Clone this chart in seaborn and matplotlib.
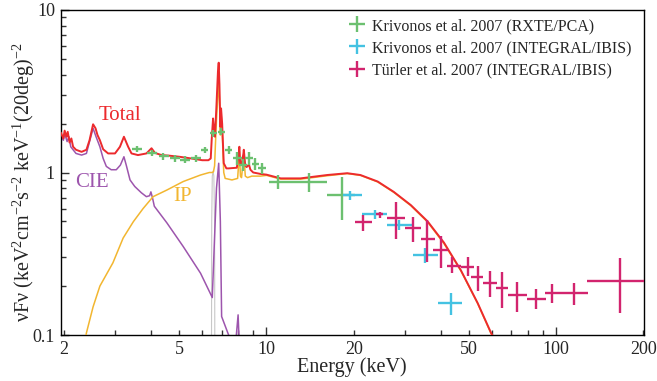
import numpy as np
import pandas as pd
import matplotlib
matplotlib.use('Agg')
import matplotlib.pyplot as plt
import seaborn as sns
from matplotlib.ticker import FixedLocator, FixedFormatter, NullFormatter

# ---------------- data ----------------
# Model: Total
total_E = [1.95, 1.99, 2.01, 2.04, 2.06, 2.09, 2.12, 2.15, 2.20, 2.30, 2.39, 2.45, 2.52,
           2.57, 2.61, 2.66, 2.73, 2.84, 3.00, 3.12, 3.22, 3.33, 3.42, 3.60, 3.85, 4.01,
           4.12, 4.34, 4.60, 5.00, 5.50, 6.00, 6.30, 6.42, 6.47, 6.54, 6.58, 6.64, 6.72,
           6.80, 6.84, 6.88, 6.93, 6.97, 7.03, 7.12, 7.27, 7.40, 7.90, 8.02, 8.06, 8.12,
           8.20, 8.32, 8.35, 8.45, 8.54, 8.70, 8.80, 9.00, 9.53,
           10.0, 11.2, 13.1, 16.2, 19.0, 21.1, 24.2, 27.5, 31.5, 36.0, 41.0, 46.9, 53.6,
           59.6, 62.0]
total_v = [1.76, 1.62, 1.81, 1.66, 1.78, 1.53, 1.62, 1.44, 1.38, 1.34, 1.38, 1.58, 1.98,
           1.87, 1.70, 1.58, 1.39, 1.31, 1.31, 1.44, 1.66, 1.44, 1.31, 1.28, 1.31, 1.41,
           1.32, 1.28, 1.27, 1.25, 1.22, 1.19, 1.19, 1.22, 1.60, 2.15, 1.90, 1.66, 2.60,
           4.20, 4.74, 3.50, 1.91, 2.48, 2.00, 1.14, 1.06, 1.06, 1.07, 1.30, 1.44, 1.11,
           1.12, 1.30, 1.38, 1.10, 1.08, 1.12, 1.04, 1.00, 0.98,
           0.97, 0.92, 0.92, 0.965, 0.99, 0.965, 0.88, 0.76, 0.63, 0.50, 0.37, 0.25, 0.157,
           0.103, 0.09]

# Model: CIE
cie_E = [1.95, 1.99, 2.01, 2.05, 2.08, 2.11, 2.15, 2.20, 2.30, 2.39, 2.45, 2.52, 2.58,
         2.66, 2.73, 2.80, 2.91, 3.03, 3.13, 3.22, 3.28, 3.38, 3.51, 3.70, 3.85, 3.95,
         3.99, 4.04, 4.10, 4.53, 5.16, 5.92, 6.50, 6.60, 6.72, 6.84, 6.93, 7.00, 7.40,
         7.60, 7.85, 7.98, 8.05, 8.30]
cie_v = [1.70, 1.58, 1.74, 1.55, 1.66, 1.44, 1.38, 1.31, 1.28, 1.31, 1.55, 1.87, 1.66,
         1.44, 1.22, 1.09, 1.04, 1.04, 1.11, 1.25, 1.11, 0.90, 0.82, 0.75, 0.71, 0.72,
         0.76, 0.70, 0.62, 0.49, 0.35, 0.24, 0.17, 0.35, 0.80, 1.14, 0.50, 0.13, 0.10,
         0.09, 0.095, 0.133, 0.09, 0.07]

# Model: IP
ip_E = [2.30, 2.39, 2.52, 2.66, 2.95, 3.20, 3.47, 3.75, 4.06, 4.53, 5.16, 5.92, 6.35,
        6.50, 6.56, 6.62, 6.66, 6.72, 6.80, 6.84, 6.88, 6.93, 6.97, 7.03, 7.12, 7.20,
        7.60, 7.95, 8.02, 8.06, 8.13, 8.20, 8.30, 8.35, 8.45, 8.60, 8.90, 9.53,
        10.0, 11.2, 13.1, 16.2, 19.0, 21.1, 24.2, 27.5, 31.5, 36.0, 41.0, 46.9, 53.6,
        59.6, 62.0]
ip_v = [0.07, 0.103, 0.149, 0.20, 0.278, 0.395, 0.498, 0.60, 0.71, 0.78, 0.88, 0.965, 1.00,
        1.00, 1.01, 1.10, 1.45, 2.10, 3.10, 3.65, 2.80, 1.70, 2.30, 1.80, 1.00, 0.92,
        0.90, 0.92, 1.15, 1.35, 0.95, 0.93, 1.15, 1.30, 0.95, 0.93, 0.95, 0.95,
        0.96, 0.91, 0.91, 0.955, 0.985, 0.96, 0.875, 0.755, 0.625, 0.495, 0.365, 0.248, 0.156,
        0.102, 0.09]

# Model: fluorescence line (grey)
line_E = [6.40, 6.46, 6.47, 6.50, 6.54, 6.58, 6.62, 6.63, 6.68]
line_v = [0.05, 0.10, 0.50, 0.95, 1.02, 0.95, 0.50, 0.10, 0.05]

# Krivonos et al. 2007 (RXTE/PCA)
pca_E   = [3.57, 4.02, 4.41, 4.84, 5.24, 5.72, 6.12, 6.56, 6.98, 7.40, 7.92, 8.30, 8.68, 9.16, 9.66, 11.0, 14.0, 18.2]
pca_Elo = [3.43, 3.86, 4.24, 4.65, 5.04, 5.50, 5.95, 6.38, 6.78, 7.20, 7.65, 8.05, 8.40, 8.90, 9.35, 10.2, 11.9, 16.2]
pca_Ehi = [3.72, 4.18, 4.59, 5.04, 5.45, 5.95, 6.30, 6.74, 7.18, 7.60, 8.20, 8.55, 8.95, 9.45, 10.0, 11.9, 16.2, 20.2]
pca_v   = [1.39, 1.32, 1.26, 1.22, 1.20, 1.22, 1.375, 1.74, 1.78, 1.375, 1.22, 1.11, 1.22, 1.13, 1.06, 0.878, 0.878, 0.727]
pca_vlo = [1.33, 1.26, 1.20, 1.16, 1.14, 1.16, 1.31, 1.66, 1.69, 1.30, 1.12, 1.02, 1.12, 1.04, 0.98, 0.79, 0.76, 0.51]
pca_vhi = [1.46, 1.38, 1.32, 1.28, 1.26, 1.28, 1.44, 1.83, 1.87, 1.45, 1.33, 1.21, 1.33, 1.23, 1.15, 0.965, 0.99, 0.94]

# Krivonos et al. 2007 (INTEGRAL/IBIS)
kibis_E   = [19.4, 23.6, 28.7, 35.2, 43.2]
kibis_Elo = [18.3, 21.3, 26.0, 32.0, 39.1]
kibis_Ehi = [21.4, 26.1, 31.9, 39.1, 47.4]
kibis_v   = [0.727, 0.553, 0.475, 0.311, 0.157]
kibis_vlo = [0.68, 0.515, 0.443, 0.276, 0.133]
kibis_vhi = [0.77, 0.588, 0.51, 0.342, 0.181]

# Türler et al. 2007 (INTEGRAL/IBIS)
tibis_E   = [21.6, 24.6, 27.9, 32.0, 35.9, 40.0, 43.8, 49.5, 53.8, 59.0, 64.8, 73.4, 85.3, 96.8, 114.9, 166.0]
tibis_Elo = [20.2, 23.9, 26.0, 30.0, 34.1, 37.6, 41.9, 46.9, 51.0, 56.1, 62.0, 68.4, 79.1, 91.5, 102.6, 128.0]
tibis_Ehi = [23.2, 25.3, 30.0, 34.2, 38.1, 42.2, 46.9, 52.1, 56.1, 62.4, 68.2, 79.4, 92.1, 102.6, 128.8, 206.0]
tibis_v   = [0.498, 0.553, 0.522, 0.453, 0.39, 0.334, 0.266, 0.263, 0.228, 0.21, 0.196, 0.176, 0.167, 0.182, 0.182, 0.216]
tibis_vlo = [0.438, 0.522, 0.39, 0.375, 0.283, 0.257, 0.242, 0.231, 0.187, 0.171, 0.146, 0.139, 0.144, 0.157, 0.153, 0.137]
tibis_vhi = [0.548, 0.574, 0.661, 0.530, 0.51, 0.407, 0.303, 0.30, 0.266, 0.249, 0.243, 0.213, 0.191, 0.205, 0.21, 0.296]

legend_labels = ['Krivonos et al. 2007 (RXTE/PCA)',
                 'Krivonos et al. 2007 (INTEGRAL/IBIS)',
                 'Türler et al. 2007 (INTEGRAL/IBIS)']
x_major = [10, 100]
x_minor = [2, 3, 4, 5, 6, 7, 8, 9, 20, 30, 40, 50, 60, 70, 80, 90, 200]
x_minor_labels = ['2', '', '', '5', '', '', '', '', '20', '', '', '50', '', '', '', '', '200']
y_major = [0.1, 1, 10]
y_major_labels = ['0.1', '1', '10']

# ---------------- style ----------------
sns.set_theme(style='white')
plt.rcParams['font.family'] = ['Liberation Serif', 'DejaVu Serif']
plt.rcParams['mathtext.fontset'] = 'custom'
plt.rcParams['mathtext.rm'] = 'Liberation Serif'
plt.rcParams['mathtext.it'] = 'Liberation Serif:italic'

C_TOT = '#ec2a2d'
C_CIE = '#9d55ad'
C_IP = '#f2b630'
C_LINE = '#c8c8c8'
C_PCA = '#6cc070'
C_KIB = '#44c2e2'
C_TIB = '#d2246e'

W, H = 657, 381
fig = plt.figure(figsize=(W / 100, H / 100), dpi=100)
ax = fig.add_axes([60.5 / W, 1 - 335 / H, (644 - 60.5) / W, (335 - 10) / H])
ax.set_xscale('log')
ax.set_yscale('log')

sns.lineplot(x=line_E, y=line_v, ax=ax, color=C_LINE, lw=0.8, sort=False, estimator=None, zorder=1)
sns.lineplot(x=cie_E, y=cie_v, ax=ax, color=C_CIE, lw=1.1, sort=False, estimator=None, zorder=2)
sns.lineplot(x=ip_E, y=ip_v, ax=ax, color=C_IP, lw=1.1, sort=False, estimator=None, zorder=3)
sns.lineplot(x=total_E, y=total_v, ax=ax, color=C_TOT, lw=1.4, sort=False, estimator=None, zorder=4)

handles = []
for E, Elo, Ehi, v, vlo, vhi, col in [
        (pca_E, pca_Elo, pca_Ehi, pca_v, pca_vlo, pca_vhi, C_PCA),
        (kibis_E, kibis_Elo, kibis_Ehi, kibis_v, kibis_vlo, kibis_vhi, C_KIB),
        (tibis_E, tibis_Elo, tibis_Ehi, tibis_v, tibis_vlo, tibis_vhi, C_TIB)]:
    E = np.array(E); v = np.array(v)
    xerr = [E - np.array(Elo), np.array(Ehi) - E]
    yerr = [v - np.array(vlo), np.array(vhi) - v]
    h = ax.errorbar(E, v, xerr=xerr, yerr=yerr, fmt='none', ecolor=col,
                    elinewidth=1.7, capsize=0, zorder=5)
    handles.append(h)

ax.set_xlim(1.945, 201)
ax.set_ylim(0.1, 10)

ax.text(3.13, 2.23, 'Total', color=C_TOT, fontsize=15, ha='center', va='center')
ax.text(2.50, 0.874, 'CIE', color=C_CIE, fontsize=15, ha='center', va='center')
ax.text(5.12, 0.707, 'IP', color=C_IP, fontsize=15, ha='center', va='center')

leg = ax.legend(handles, legend_labels, loc='upper right', frameon=False, fontsize=11.5,
                handlelength=0.9, handletextpad=0.5, labelspacing=0.38,
                borderaxespad=0.0, bbox_to_anchor=(0.99, 0.995))

ax.xaxis.set_major_locator(FixedLocator(x_major))
ax.xaxis.set_major_formatter(FixedFormatter([str(t) for t in x_major]))
ax.xaxis.set_minor_locator(FixedLocator(x_minor))
ax.xaxis.set_minor_formatter(FixedFormatter(x_minor_labels))
ax.yaxis.set_major_locator(FixedLocator(y_major))
ax.yaxis.set_major_formatter(FixedFormatter(y_major_labels))
ax.yaxis.set_minor_locator(FixedLocator([0.2, 0.3, 0.4, 0.5, 0.6, 0.7, 0.8, 0.9,
                                         2, 3, 4, 5, 6, 7, 8, 9]))
ax.yaxis.set_minor_formatter(NullFormatter())

ax.tick_params(which='both', direction='in', bottom=True, left=True, top=False, right=False,
               labelsize=13, color='#333333', width=1.0, pad=4)
ax.tick_params(which='major', length=6)
ax.tick_params(which='minor', length=3.5)
for s in ax.spines.values():
    s.set_color('black')
    s.set_linewidth(1.0)

ax.set_xlabel('Energy (keV)', fontsize=14.5, labelpad=0)
ax.set_ylabel(r'νFν (keV$^{2}$cm$^{-2}$s$^{-2}$ keV$^{-1}$(20deg)$^{-2}$', fontsize=14.5)
ax.yaxis.set_label_coords(-0.041, 0.47)

fig.savefig('out.png', dpi=100)
